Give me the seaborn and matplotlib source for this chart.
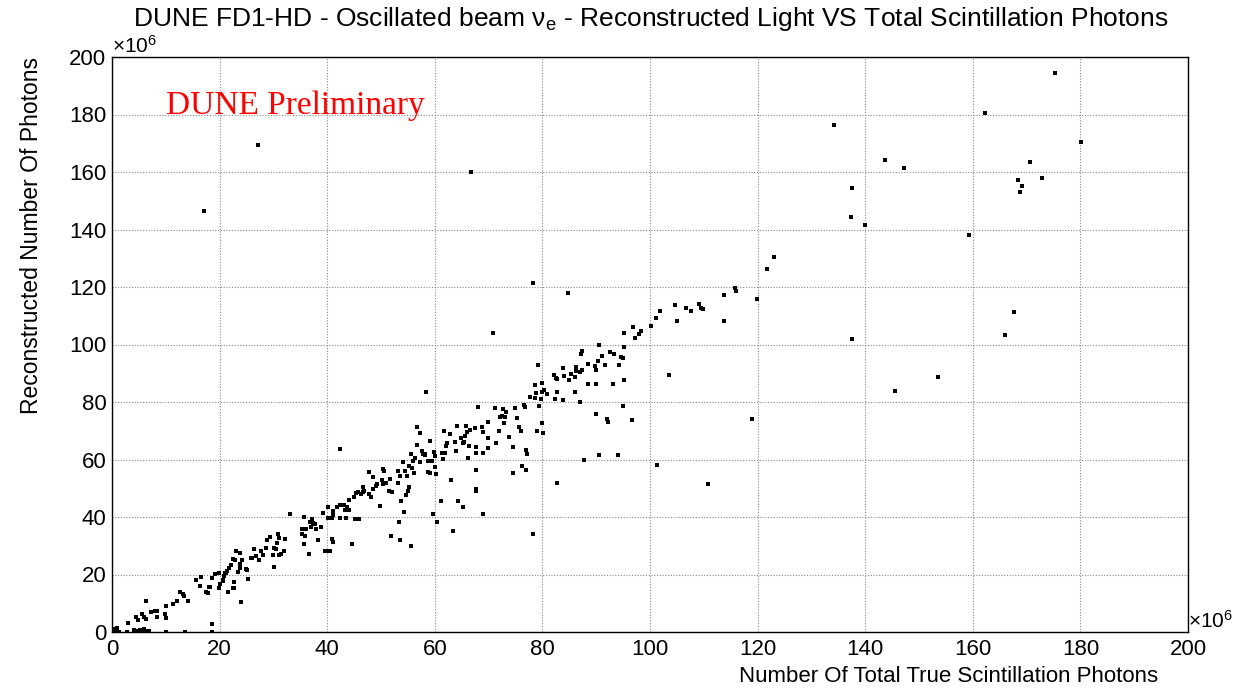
import matplotlib
matplotlib.use("Agg")
import matplotlib.pyplot as plt
import seaborn as sns
import pandas as pd
from matplotlib.ticker import MultipleLocator

# Data (units of 1e6 photons)
true_photons = [
    0.3, 0.5, 0.9, 1.3, 2.7, 4.1, 4.5, 5.2, 5.5, 6.0, 6.4, 6.8, 10.1, 13.6, 18.5, 18.5,
    2.9, 4.4, 4.8, 5.6, 6.0, 6.3, 6.4, 7.25, 7.9, 8.3, 8.3, 10.0, 9.85, 10.0, 11.4, 12.0,
    12.7, 13.26, 13.45, 14.1, 15.55, 16.5, 16.4, 17.4, 17.9, 18.2, 18.5, 19.1, 19.8, 19.8,
    20.1, 20.7, 21.0, 21.3, 21.5, 21.8, 22.6, 22.9, 22.6, 23.5, 23.8, 24.0, 24.2, 25.0,
    25.3, 26.0,
    18.1, 20.6, 20.9, 21.2, 22.2, 22.4, 22.5, 23.0, 23.7, 23.7, 24.9, 25.8, 26.4, 26.8,
    27.4, 27.7, 28.1, 28.6, 28.9, 29.3, 29.9, 30.1, 30.1, 30.5, 30.7, 30.9, 31.1, 31.1,
    31.5, 32.0, 32.2, 33.1, 35.4, 35.7, 35.9, 35.7, 36.1, 36.7, 36.8, 36.9, 37.1, 37.4,
    37.7, 37.9, 38.2, 38.8, 39.3, 39.6, 40.2, 40.2, 40.4,
    35.3, 40.8, 41.1, 41.1, 41.9, 42.3, 42.3, 42.3, 43.1, 43.3, 43.5, 43.6, 44.1, 44.1,
    45.0, 45.2, 45.4, 45.8, 46.0, 46.2, 46.6, 46.7, 46.8, 47.7, 47.8, 48.1, 48.5, 48.5,
    49.1, 49.3, 49.9, 50.1, 50.4, 50.5, 50.4, 50.9, 51.4, 51.6, 52.0, 51.8, 53.2, 53.2,
    53.5, 53.4, 53.7, 54.1, 54.3, 54.5, 54.7, 54.9, 55.0, 55.2, 55.2, 55.6, 55.8, 56.0,
    56.1, 56.4, 56.6, 56.6, 57.2, 57.3, 57.6, 57.8, 58.1, 58.2, 58.8, 58.8, 59.1, 59.2,
    59.4, 59.7, 59.8, 60.0, 60.2, 60.0, 60.5, 61.1, 61.3, 61.5, 61.7, 61.9, 62.1, 62.3,
    40.8, 41.0, 40.5, 44.7, 53.5, 55.6, 63.4, 64.4, 65.2, 67.6, 67.7, 68.9, 78.3,
    58.4, 62.9, 63.1, 63.8, 63.9, 64.2, 64.8, 65.2, 65.4, 65.6, 65.8, 65.9, 66.2, 66.4,
    66.5, 67.4, 67.6, 67.6, 67.7, 68.1, 68.7, 68.9, 68.9, 69.9, 69.9, 69.9, 71.4, 71.2,
    72.0, 72.2, 72.4, 72.6, 72.9, 73.0, 73.2, 73.7, 74.5, 74.6, 74.9, 75.3, 75.7, 76.1,
    76.3, 76.6, 76.8, 76.9, 77.1, 76.9, 77.7, 78.7, 78.7, 78.9, 79.0, 79.1, 79.4, 79.7,
    79.9, 80.0, 80.0, 80.1, 80.3, 80.8, 82.2, 82.4, 82.6, 82.8, 82.8, 82.8, 83.8, 83.9,
    84.0, 85.0,
    84.8, 85.4, 86.1, 86.1, 86.3, 86.3, 86.9, 86.9, 87.1, 87.3, 87.4, 88.4, 88.4, 89.8,
    90.0, 90.0, 89.9, 90.3, 90.6, 91.0, 91.7, 92.0, 92.2, 92.6, 93.3, 93.2, 94.3, 94.6,
    94.9, 94.9, 95.2, 95.1, 95.2, 96.6, 96.8, 97.2, 98.0, 98.4, 100.1, 101.1, 101.8,
    103.6, 104.6, 105.1, 106.6, 107.7, 109.2,
    113.8, 113.8, 109.4, 109.8, 87.7, 90.5, 94.1,
    115.8, 116.0, 119.9, 121.7, 123.0, 101.3, 110.8, 118.9, 17.1, 27.1, 66.7, 78.3, 70.9,
    134.2, 175.3, 162.3, 180.2, 143.7, 147.2, 137.5, 137.4, 140.0, 137.5, 145.5, 153.5,
    159.3, 170.6, 168.4, 169.2, 168.8, 172.8, 167.7, 166.0,
]
reco_photons = [
    1.2, 0.6, 1.4, 0.1, 0.0, 0.8, 0.4, 0.8, 0.2, 0.9, 0.4, 0.4, 0.1, 0.1, 0.1, 2.7,
    3.0, 5.3, 4.2, 6.1, 5.3, 4.5, 10.9, 6.8, 7.3, 7.3, 5.3, 9.2, 6.1, 5.0, 9.6, 10.8,
    14.0, 13.1, 12.6, 10.8, 18.1, 19.2, 16.1, 14.0, 13.5, 15.8, 18.9, 20.1, 20.4, 15.4,
    16.6, 17.7, 20.4, 21.2, 13.8, 22.1, 17.5, 25.2, 15.4, 20.7, 22.1, 10.6, 25.0, 21.6,
    18.4, 25.6,
    15.5, 18.1, 19.4, 20.6, 23.3, 25.3, 15.2, 28.2, 27.6, 23.6, 21.8, 25.6, 28.7, 26.4,
    25.0, 28.3, 26.8, 29.1, 32.0, 32.9, 26.8, 22.7, 29.1, 28.8, 31.1, 34.1, 32.6, 26.8,
    27.2, 28.3, 32.2, 41.0, 34.1, 40.1, 33.4, 30.6, 36.0, 27.3, 38.4, 36.4, 39.2, 38.0,
    37.6, 36.0, 32.0, 36.6, 41.5, 28.2, 43.6, 39.5, 28.2,
    35.8, 39.5, 42.1, 40.7, 43.6, 63.5, 44.2, 39.5, 44.2, 42.4, 39.5, 43.4, 45.9, 42.4,
    46.9, 39.2, 48.2, 48.8, 39.2, 48.0, 48.8, 50.6, 49.2, 55.8, 48.0, 46.9, 54.0, 49.6,
    50.8, 51.4, 43.8, 52.8, 56.6, 56.1, 51.4, 51.9, 49.2, 53.1, 48.8, 33.4, 56.1, 51.9,
    54.3, 38.4, 45.4, 59.3, 41.6, 56.1, 47.7, 54.3, 49.2, 50.6, 57.8, 61.9, 57.0, 59.6,
    55.4, 60.4, 71.2, 65.1, 69.3, 59.3, 63.1, 61.9, 61.6, 61.9, 55.8, 59.6, 55.4, 66.6,
    59.6, 40.9, 62.7, 61.2, 55.0, 57.3, 38.4, 45.4, 62.2, 60.1, 70.0, 62.4, 64.7, 65.8,
    32.2, 31.4, 28.3, 30.5, 32.0, 29.9, 35.0, 45.4, 43.4, 49.8, 48.9, 41.0, 34.1,
    83.5, 68.9, 52.9, 66.2, 63.1, 71.6, 67.6, 65.6, 66.2, 68.1, 71.6, 69.6, 60.4, 64.7,
    70.2, 70.8, 64.5, 62.2, 56.3, 78.4, 71.2, 69.6, 62.4, 73.1, 67.6, 63.9, 65.9, 77.8,
    70.0, 74.7, 75.1, 77.4, 72.8, 74.7, 76.6, 67.9, 64.5, 55.4, 77.8, 74.3, 71.2, 70.0,
    57.8, 78.9, 78.1, 63.3, 61.9, 56.2, 81.9, 85.9, 81.3, 83.3, 70.0, 93.0, 78.6, 80.9,
    72.8, 86.7, 83.6, 69.1, 84.2, 82.8, 89.4, 80.9, 88.2, 87.9, 83.6, 51.9, 92.0, 80.7,
    89.0, 87.7,
    118.0, 89.9, 88.8, 83.4, 92.2, 90.8, 80.0, 90.5, 96.7, 97.8, 91.1, 93.2, 86.3, 92.5,
    91.3, 86.3, 75.7, 94.4, 100.0, 96.1, 92.9, 74.0, 73.2, 97.3, 96.7, 86.3, 92.9, 95.6,
    95.2, 78.7, 99.3, 104.1, 87.5, 73.7, 106.0, 102.3, 103.6, 104.8, 106.6, 109.1, 111.8,
    89.4, 113.7, 108.3, 112.6, 111.8, 114.1,
    117.2, 108.2, 112.6, 112.3, 60.0, 61.6, 61.6,
    119.6, 118.5, 115.7, 126.2, 130.5, 58.1, 51.5, 74.1, 146.5, 169.5, 160.0, 121.5, 104.1,
    176.5, 194.5, 180.5, 170.5, 164.3, 161.3, 154.5, 144.5, 141.5, 101.8, 83.8, 88.8,
    138.0, 163.5, 157.2, 155.2, 153.0, 158.0, 111.3, 103.2,
]

title = r"DUNE FD1-HD - Oscillated beam $\mathregular{\nu_{e}}$ - Reconstructed Light VS Total Scintillation Photons"
x_label = "Number Of Total True Scintillation Photons"
y_label = "Reconstructed Number Of Photons"
watermark = "DUNE Preliminary"

df = pd.DataFrame({"x": true_photons, "y": reco_photons})

sns.set_theme(style="white")
plt.rcParams["font.family"] = ["Liberation Sans", "DejaVu Sans"]
plt.rcParams["mathtext.fontset"] = "custom"
plt.rcParams["mathtext.rm"] = "Liberation Sans"
plt.rcParams["mathtext.it"] = "Liberation Sans"
plt.rcParams["text.color"] = "black"
plt.rcParams["axes.labelcolor"] = "black"
plt.rcParams["xtick.color"] = "black"
plt.rcParams["ytick.color"] = "black"

fig = plt.figure(figsize=(12.44, 6.88), dpi=100)
ax = fig.add_axes([112 / 1244, 56 / 688, 1076 / 1244, 575 / 688])

sns.scatterplot(data=df, x="x", y="y", ax=ax, marker="s", s=7, color="black",
                edgecolor="black", linewidth=0, zorder=3)

ax.set_xlim(0, 200)
ax.set_ylim(0, 200)
ax.xaxis.set_major_locator(MultipleLocator(20))
ax.xaxis.set_minor_locator(MultipleLocator(5))
ax.yaxis.set_major_locator(MultipleLocator(20))
ax.yaxis.set_minor_locator(MultipleLocator(5))
ax.grid(True, which="major", color="#888888", linestyle=(0, (1, 1.5)), linewidth=0.8, zorder=1)

for s in ax.spines.values():
    s.set_color("black")
    s.set_linewidth(1.0)

ax.tick_params(axis="x", which="major", direction="in", length=12, width=1, color="black",
               labelsize=16, pad=5, top=False)
ax.tick_params(axis="x", which="minor", direction="in", length=6, width=1, color="black", top=False)
ax.tick_params(axis="y", which="major", direction="in", length=23, width=1, color="black",
               labelsize=16, pad=4, right=False)
ax.tick_params(axis="y", which="minor", direction="in", length=11.5, width=1, color="black", right=False)

ax.set_xlabel(x_label, fontsize=16)
ax.xaxis.set_label_coords((1158 - 112) / 1076, -0.077)
ax.xaxis.label.set_ha("right")
ax.xaxis.label.set_va("center")
ax.set_ylabel(y_label, fontsize=16.5)
ax.yaxis.set_label_coords(-(112 - 32) / 1076, 1.0)
ax.yaxis.label.set_ha("right")
ax.yaxis.label.set_va("center")

fig.text(0.523, 0.973, title, ha="center", va="center", fontsize=19)
ax.text(0.0, 1.0, r"$\mathregular{\times10^{6}}$", transform=ax.transAxes, ha="left", va="bottom",
        fontsize=15)
ax.text(1.0, 0.0, r"$\mathregular{\times10^{6}}$", transform=ax.transAxes, ha="left", va="bottom",
        fontsize=15)
ax.text(10, 183, watermark, color="red", fontsize=24, family=["Liberation Serif", "DejaVu Serif"],
        ha="left", va="center")

fig.savefig("out.png", dpi=100, facecolor="white")
